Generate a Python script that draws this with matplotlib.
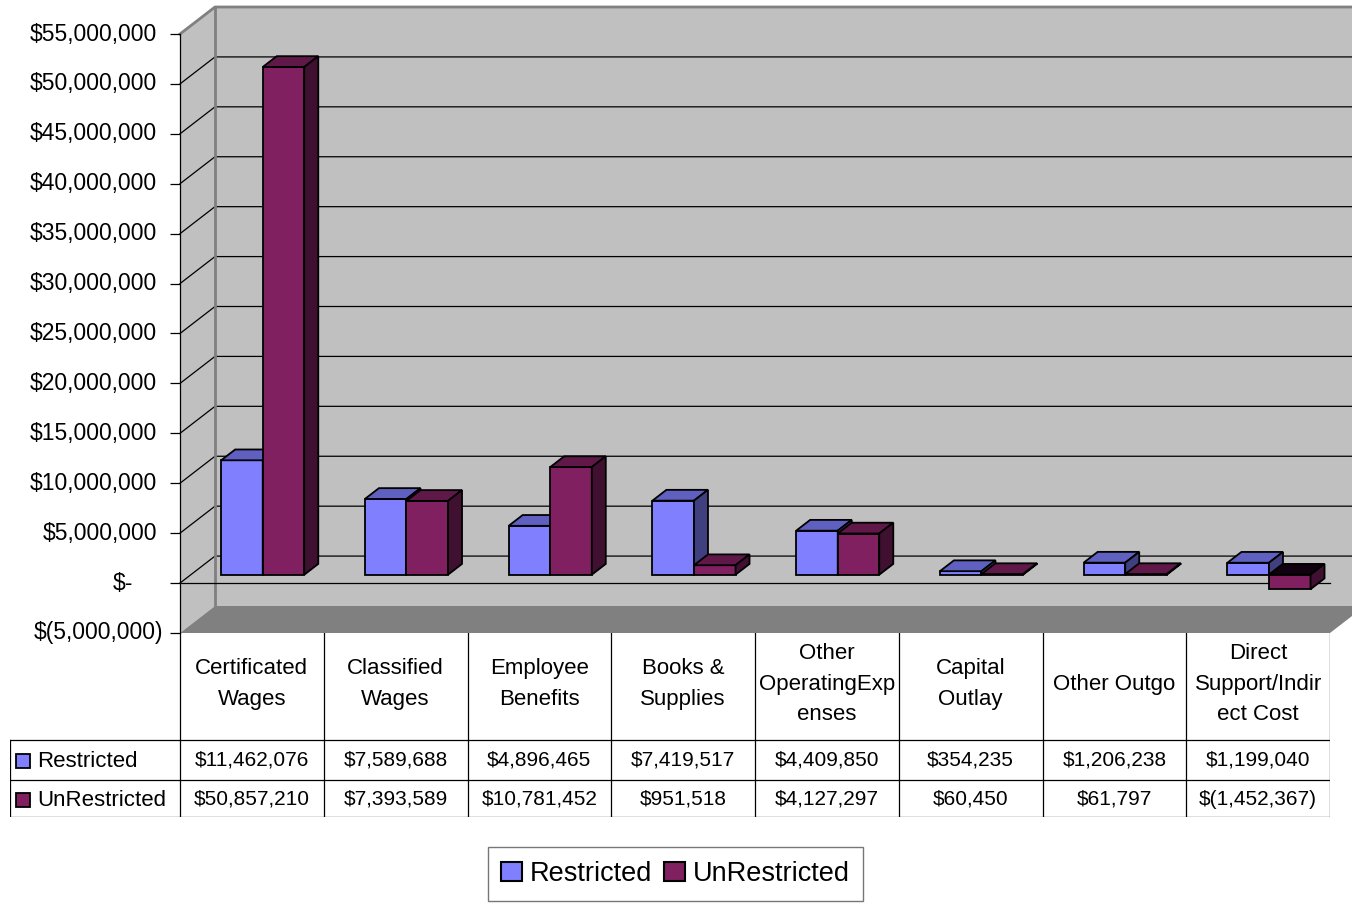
import matplotlib
matplotlib.use("Agg")
import matplotlib.pyplot as plt
from matplotlib.patches import Polygon, Rectangle, Patch

# data
categories = ["Certificated\nWages", "Classified\nWages", "Employee\nBenefits", "Books &\nSupplies",
              "Other\nOperatingExp\nenses", "Capital\nOutlay", "Other Outgo",
              "Direct\nSupport/Indir\nect Cost"]
series_names = ["Restricted", "UnRestricted"]
restricted = [11462076, 7589688, 4896465, 7419517, 4409850, 354235, 1206238, 1199040]
unrestricted = [50857210, 7393589, 10781452, 951518, 4127297, 60450, 61797, -1452367]
y_ticks = list(range(-5000000, 55000001, 5000000))

front_colors = ["#8080FF", "#802060"]
top_colors = ["#6060C0", "#601848"]
side_colors = ["#404080", "#401030"]

FONT = ["Liberation Sans", "DejaVu Sans"]

W, H = 1352, 905
fig = plt.figure(figsize=(W / 100, H / 100), dpi=100)


def px_axes(x0, y0, x1, y1):
    return fig.add_axes([x0 / W, 1 - y1 / H, (x1 - x0) / W, (y1 - y0) / H])


def money(v):
    if v == 0:
        return "$-"
    if v < 0:
        return "$({:,.0f})".format(-v)
    return "${:,.0f}".format(v)


ncat = len(categories)
ymin, ymax = -5e6, 55e6
ax = px_axes(180, 34, 1330, 633)
ax.set_xlim(0, ncat)
ax.set_ylim(ymin, ymax)
ax.patch.set_visible(False)

# depth of the 3d box, in data units (35 px across, 27 px up)
DX = 35 * ncat / 1150
DY = 27 * (ymax - ymin) / 599
far = ncat + 3 * DX

# walls and floor
ax.add_patch(Polygon([(DX, ymin + DY), (far, ymin + DY), (far, ymax + DY), (DX, ymax + DY)],
                     fc="#C0C0C0", ec="none", zorder=0, clip_on=False))
ax.add_patch(Polygon([(0, ymin), (DX, ymin + DY), (DX, ymax + DY), (0, ymax)],
                     fc="#C0C0C0", ec="none", zorder=0, clip_on=False))
ax.add_patch(Polygon([(0, ymin), (ncat, ymin), (ncat + DX, ymin + DY), (DX, ymin + DY)],
                     fc="#808080", ec="none", zorder=1, clip_on=False))

for v in y_ticks[1:-1]:
    ax.plot([0, DX, far], [v, v + DY, v + DY], color="black", lw=0.9, zorder=1, clip_on=False)
ax.plot([0, DX, far], [ymax, ymax + DY, ymax + DY], color="#808080", lw=2, zorder=1, clip_on=False)
ax.plot([DX, DX], [ymin + DY, ymax + DY], color="#808080", lw=2, zorder=1, clip_on=False)
ax.plot([0, ncat], [0, 0], color="black", lw=0.9, zorder=1, clip_on=False)

# 3d columns
bw = 0.289
f1, f2 = 0.31, 0.71
ox, oy = f1 * DX, f1 * DY
ddx, ddy = (f2 - f1) * DX, (f2 - f1) * DY
for i in range(ncat):
    for j, vals in enumerate([restricted, unrestricted]):
        v = vals[i]
        xl = i + 0.5 - bw + j * bw + ox
        ax.bar(xl, v, width=bw, bottom=oy, align="edge", color=front_colors[j],
               edgecolor="black", linewidth=1.3, zorder=3 + 2 * i + j, clip_on=False)
        yt = oy + max(v, 0)
        yb = oy + min(v, 0)
        tc = top_colors[j] if v >= 0 else "#100010"
        ax.add_patch(Polygon([(xl, yt), (xl + bw, yt), (xl + bw + ddx, yt + ddy), (xl + ddx, yt + ddy)],
                             fc=tc, ec="black", lw=1.3, zorder=3 + 2 * i + j, clip_on=False))
        ax.add_patch(Polygon([(xl + bw, yb), (xl + bw, yt), (xl + bw + ddx, yt + ddy), (xl + bw + ddx, yb + ddy)],
                             fc=side_colors[j], ec="black", lw=1.3, zorder=3 + 2 * i + j, clip_on=False))

# y axis: accounting style labels ("$-" and negatives sit differently)
ax.set_xticks([])
ax.set_yticks(y_ticks)
ax.set_yticklabels([])
ax.tick_params(axis="y", length=7.2, width=0.9, direction="out")
for v in y_ticks:
    right_px = 157 if v > 0 else (133 if v == 0 else 163)
    ax.text((right_px - 180) / 1150, v, money(v), transform=ax.get_yaxis_transform(),
            ha="right", va="center", fontfamily=FONT, fontsize=16.5)
for s in ["top", "right", "bottom"]:
    ax.spines[s].set_visible(False)
ax.spines["left"].set_linewidth(0.9)

# data table
tab = px_axes(10, 633, 1330, 817)
left = (10 - 180) / 143.75
tab.set_xlim(left, ncat)
tab.set_ylim(817, 633)
tab.axis("off")
for k in range(ncat + 1):
    tab.plot([k, k], [633, 817], color="black", lw=0.9)
tab.plot([left, left], [740, 817], color="black", lw=0.9)
for yy in [740, 780, 817]:
    tab.plot([left, ncat], [yy, yy], color="black", lw=0.9)

for i, name in enumerate(categories):
    tab.text(i + 0.5, 684, name, ha="center", va="center", fontfamily=FONT, fontsize=16,
             linespacing=1.6)
    tab.text(i + 0.5, 760, money(restricted[i]), ha="center", va="center", fontfamily=FONT, fontsize=15)
    tab.text(i + 0.5, 799, money(unrestricted[i]), ha="center", va="center", fontfamily=FONT, fontsize=15)

for j, (name, ycen) in enumerate(zip(series_names, [761, 800])):
    tab.add_patch(Rectangle(((16 - 180) / 143.75, ycen + 7), 14 / 143.75, -14,
                            fc=front_colors[j], ec="black", lw=1.3, clip_on=False))
    tab.text((37 - 180) / 143.75, ycen, name, ha="left", va="center", fontfamily=FONT, fontsize=16)

# legend
handles = [Patch(fc=front_colors[j], ec="black", lw=1.5, label=series_names[j]) for j in range(2)]
fig.legend(handles=handles, loc="center", bbox_to_anchor=(675.5 / W, 1 - 874 / H), ncol=2,
           frameon=True, fancybox=False, edgecolor="#777777", framealpha=1,
           prop={"family": FONT, "size": 19.5}, handlelength=0.75, handleheight=0.75,
           handletextpad=0.3, columnspacing=0.45, borderpad=0.5)

fig.savefig("out.png", dpi=100)
